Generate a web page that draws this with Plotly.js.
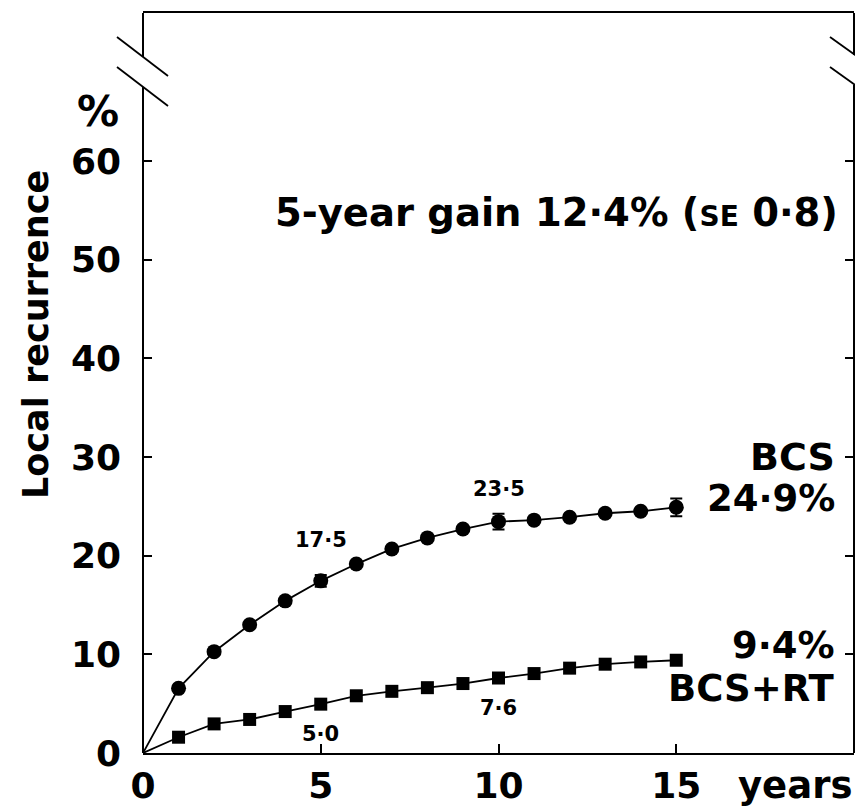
<!DOCTYPE html>
<html>
<head>
<meta charset="utf-8">
<script src="https://cdn.plot.ly/plotly-3.0.1.min.js"></script>
<style>html,body{margin:0;padding:0;background:#fff;}#chart{width:855px;height:811px;}</style>
</head>
<body>
<div id="chart"></div>
<script>
// ---- data ----
const years = [1,2,3,4,5,6,7,8,9,10,11,12,13,14,15];
const bcs = [6.55,10.27,13.0,15.42,17.45,19.15,20.68,21.8,22.7,23.45,23.6,23.9,24.3,24.5,24.9];
const bcsErr = [0,0,0,0,0.6,0,0,0,0,0.8,0,0,0,0,0.9];
const bcsRt = [1.6,2.95,3.4,4.2,4.95,5.8,6.25,6.62,7.04,7.6,8.05,8.6,9.0,9.23,9.4];
const bcsLabelYears = [5,10];
const bcsLabelText = ['17·5','23·5'];
const rtLabelYears = [5,10];
const rtLabelText = ['5·0','7·6'];
const yTicks = [0,10,20,30,40,50,60];
const xTicks = [0,5,10,15];

// ---- geometry helpers (pixels -> paper) ----
const L = 143, R = 1, T = 13, B = 58, W = 855, H = 811;
const pw = W - L - R, ph = H - T - B;
const px = p => (p - L) / pw;
const py = p => (H - B - p) / ph;

const F = 'DejaVu Sans';
const bold = (size) => ({family: F, size: size, color: '#000', weight: 'bold'});

const valAt = (arrX, arrY, x) => arrY[arrX.indexOf(x)];

const traces = [
  {x: [0].concat(years), y: [0].concat(bcs), mode: 'lines', line: {color: '#000', width: 1.8}, hoverinfo: 'skip'},
  {x: [0].concat(years), y: [0].concat(bcsRt), mode: 'lines', line: {color: '#000', width: 1.8}, hoverinfo: 'skip'},
  {x: years, y: bcs, mode: 'markers', marker: {symbol: 'circle', size: 15, color: '#000'},
   error_y: {type: 'data', array: bcsErr, visible: true, color: '#000', thickness: 2, width: 6}},
  {x: years, y: bcsRt, mode: 'markers', marker: {symbol: 'square', size: 13, color: '#000'}}
];

const annotations = [];
bcsLabelYears.forEach((yr, i) => annotations.push({
  x: yr, y: valAt(years, bcs, yr), xref: 'x', yref: 'y', text: bcsLabelText[i],
  showarrow: false, yshift: i === 0 ? 41 : 33, font: bold(21)
}));
rtLabelYears.forEach((yr, i) => annotations.push({
  x: yr, y: valAt(years, bcsRt, yr), xref: 'x', yref: 'y', text: rtLabelText[i],
  showarrow: false, yshift: -30, font: bold(21)
}));
annotations.push(
  {xref: 'paper', yref: 'paper', x: px(121), y: py(112), xanchor: 'right', yanchor: 'middle', text: '%', showarrow: false, font: bold(42)},
  {xref: 'paper', yref: 'paper', x: px(36), y: py(335), xanchor: 'center', yanchor: 'middle', textangle: -90, text: 'Local recurrence', showarrow: false, font: bold(35)},
  {xref: 'paper', yref: 'paper', x: px(840), y: py(212), xanchor: 'right', yanchor: 'middle', text: '5-year gain 12·4% (<span style="font-size:28px">SE</span> 0·8)', showarrow: false, font: bold(38.5)},
  {xref: 'paper', yref: 'paper', x: px(837), y: py(457), xanchor: 'right', yanchor: 'middle', text: 'BCS', showarrow: false, font: bold(38)},
  {xref: 'paper', yref: 'paper', x: px(837), y: py(498), xanchor: 'right', yanchor: 'middle', text: '24·9%', showarrow: false, font: bold(37)},
  {xref: 'paper', yref: 'paper', x: px(837), y: py(645), xanchor: 'right', yanchor: 'middle', text: '9·4%', showarrow: false, font: bold(37)},
  {xref: 'paper', yref: 'paper', x: px(837), y: py(688), xanchor: 'right', yanchor: 'middle', text: 'BCS+RT', showarrow: false, font: bold(37)},
  {xref: 'paper', yref: 'paper', x: px(736), y: py(785), xanchor: 'left', yanchor: 'middle', text: 'years', showarrow: false, font: bold(37)}
);

const ln = (x0, y0, x1, y1, w) => ({type: 'line', xref: 'paper', yref: 'paper', x0: px(x0), y0: py(y0), x1: px(x1), y1: py(y1), line: {color: '#000', width: w || 2}});
const shapes = [
  // left axis with break
  ln(143, 13, 143, 57), ln(143, 87, 143, 753),
  // right axis with break
  ln(854, 13, 854, 55), ln(854, 85, 854, 753),
  // break marks
  ln(117, 37, 168, 76, 1.8), ln(117, 67, 168, 106, 1.8),
  ln(830, 37, 862, 60, 1.8), ln(830, 67, 862, 90, 1.8)
];

const layout = {
  width: W, height: H,
  margin: {l: L, r: R, t: T, b: B, pad: 0},
  paper_bgcolor: '#fff', plot_bgcolor: '#fff',
  showlegend: false,
  xaxis: {range: [0, 20], tickvals: xTicks, ticktext: xTicks.map(String), ticks: 'inside', ticklen: 9, tickwidth: 2, tickcolor: '#000',
    showline: true, linewidth: 2, linecolor: '#000', mirror: true, showgrid: false, zeroline: false,
    tickfont: bold(36), ticklabelstandoff: 0, fixedrange: true},
  yaxis: {range: [0, 75], tickvals: yTicks, ticktext: yTicks.map(String), ticks: 'inside', ticklen: 9, tickwidth: 2, tickcolor: '#000',
    showline: false, mirror: 'ticks', showgrid: false, zeroline: false,
    tickfont: bold(36), ticklabelstandoff: 21, fixedrange: true},
  annotations: annotations,
  shapes: shapes
};

Plotly.newPlot('chart', traces, layout, {staticPlot: true, displayModeBar: false});
</script>
</body>
</html>
